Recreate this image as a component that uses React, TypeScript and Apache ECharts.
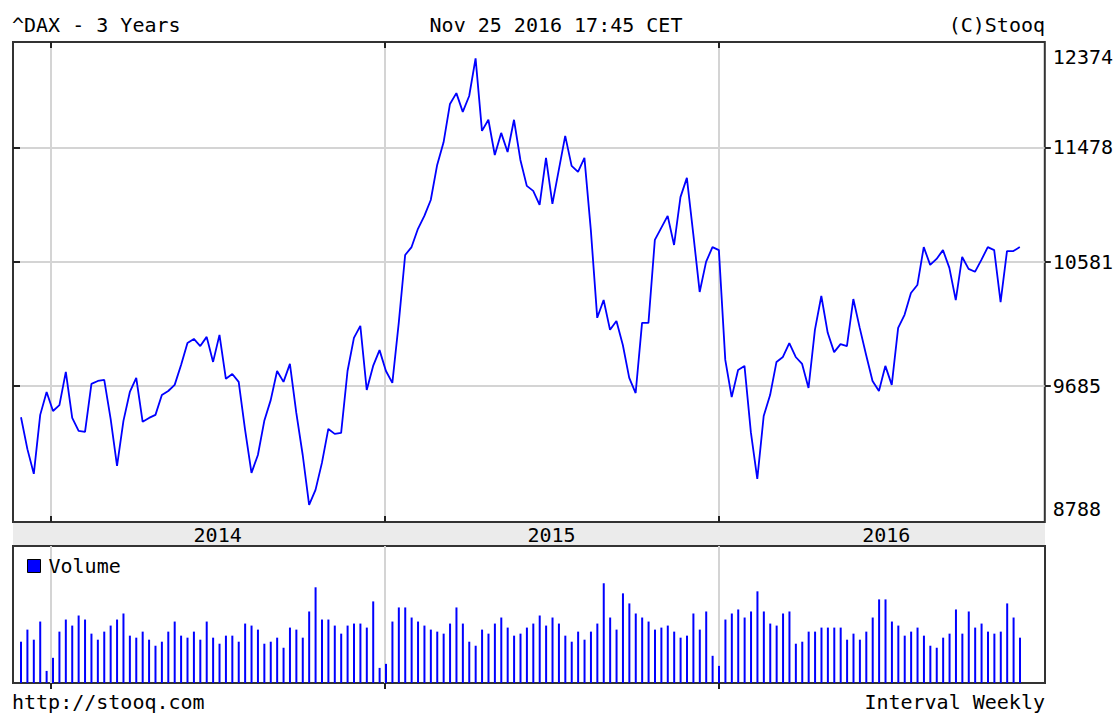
import React, { useEffect, useRef } from 'react';
import * as echarts from 'echarts';

// ---- data (weekly closes of ^DAX) ----
const FIRST_WEEK = Date.UTC(2013, 10, 29);
const WEEK_MS = 7 * 86400000;

const PRICE = [
  9399, 9172, 9000, 9416, 9583, 9444, 9487, 9731, 9394, 9301,
  9294, 9642, 9664, 9672, 9387, 9055, 9373, 9583, 9687, 9366,
  9394, 9416, 9560, 9590, 9635, 9783, 9949, 9980, 9926, 9996,
  9806, 10011, 9680, 9716, 9657, 9308, 9007, 9131, 9373, 9523,
  9738, 9657, 9791, 9430, 9131, 8788, 8890, 9076, 9315, 9280,
  9287, 9738, 9988, 10081, 9597, 9776, 9895, 9738, 9650, 10104,
  10643, 10708, 10859, 10967, 11101, 11404, 11603, 11949, 12049, 11877,
  12022, 12374, 11705, 11805, 11491, 11687, 11517, 11805, 11447, 11222,
  11179, 11059, 11465, 11068, 11361, 11660, 11395, 11343, 11465, 10850,
  10143, 10282, 10050, 10119, 9934, 9687, 9575, 10104, 10104, 10767,
  10867, 10967, 10725, 11126, 11291, 10817, 10346, 10587, 10708, 10683,
  9821, 9545, 9746, 9776, 9290, 8965, 9408, 9560, 9806, 9843,
  9949, 9843, 9791, 9612, 10050, 10314, 10027, 9880, 9941, 9926,
  10290, 10065, 9858, 9664, 9590, 9776, 9635, 10065, 10166, 10338,
  10401, 10708, 10563, 10611, 10683, 10539, 10282, 10627, 10531, 10507,
  10603, 10708, 10683, 10266, 10675, 10675, 10708,
];

// relative weekly volume
const VOLUME = [
  41, 53, 43, 61, 12, 25, 51, 63, 57, 67,
  63, 49, 43, 51, 57, 63, 69, 47, 45, 51,
  43, 37, 41, 51, 61, 47, 45, 51, 43, 61,
  45, 39, 47, 47, 41, 59, 57, 53, 39, 41,
  45, 35, 55, 53, 45, 71, 95, 63, 63, 57,
  49, 57, 59, 59, 55, 81, 15, 19, 61, 75,
  75, 65, 61, 57, 53, 51, 49, 59, 75, 59,
  41, 37, 53, 49, 59, 65, 55, 47, 49, 55,
  59, 67, 57, 65, 59, 47, 41, 51, 43, 51,
  59, 99, 65, 53, 89, 79, 69, 65, 61, 53,
  55, 57, 51, 45, 47, 69, 53, 71, 27, 17,
  63, 69, 73, 65, 71, 91, 71, 59, 57, 69,
  71, 39, 41, 51, 51, 55, 55, 55, 55, 43,
  49, 43, 51, 65, 83, 83, 61, 57, 47, 51,
  55, 47, 37, 35, 45, 49, 73, 49, 71, 55,
  59, 51, 49, 51, 79, 65, 45,
];

const Y_TICK_LABELS = [8788, 9685, 10581, 11478, 12374];
const YEAR_STARTS = [Date.UTC(2014, 0, 1), Date.UTC(2015, 0, 1), Date.UTC(2016, 0, 1)];
const YEAR_LABEL_AT = [Date.UTC(2014, 6, 2), Date.UTC(2015, 6, 2), Date.UTC(2016, 6, 2)];

const X_MIN = Date.UTC(2013, 10, 20, 6);
const X_MAX = Date.UTC(2016, 11, 22, 8);
const PRICE_AXIS_MIN = 8674;
const PRICE_AXIS_MAX = 12530;
const VOLUME_AXIS_MAX = 136;

const FONT = '"DejaVu Sans Mono", monospace';
const FS = 20;

export default function App() {
  const ref = useRef<HTMLDivElement>(null);

  useEffect(() => {
    document.body.style.margin = '0';
    if (!ref.current) return;
    const chart = echarts.init(ref.current, null, { renderer: 'svg' });

    const weeks = PRICE.map((_, i) => FIRST_WEEK + i * WEEK_MS);
    const lnTicks = Y_TICK_LABELS.map((v) => Math.log(v));
    const innerLn = lnTicks.slice(1, -1);
    const hiVal = Y_TICK_LABELS[Y_TICK_LABELS.length - 1];
    const loVal = Y_TICK_LABELS[0];

    const tickLine = { color: '#222', width: 2 };
    const gridLine = { color: '#d4d4d4', width: 2 };
    const txt = { fontFamily: FONT, fontSize: FS, color: '#000' };

    const option: any = {
      animation: false,
      backgroundColor: '#fff',
      grid: [
        { left: 13, top: 42, width: 1032, height: 480, show: true, borderColor: '#333', borderWidth: 2 },
        { left: 13, top: 546, width: 1032, height: 137, show: true, borderColor: '#333', borderWidth: 2 },
      ],
      xAxis: [
        {
          type: 'value', gridIndex: 0, position: 'bottom', min: X_MIN, max: X_MAX,
          axisLine: { show: false },
          axisTick: { show: true, inside: true, length: 6, customValues: YEAR_STARTS, lineStyle: tickLine },
          splitLine: { show: true, lineStyle: gridLine },
          axisLabel: {
            show: true, customValues: YEAR_LABEL_AT, margin: 3, ...txt,
            formatter: (v: number) => String(new Date(v).getUTCFullYear()),
          },
        },
        {
          type: 'value', gridIndex: 0, position: 'top', min: X_MIN, max: X_MAX,
          axisLine: { show: false },
          axisTick: { show: true, inside: true, length: 6, customValues: YEAR_STARTS, lineStyle: tickLine },
          splitLine: { show: false },
          axisLabel: { show: false },
        },
        {
          type: 'value', gridIndex: 1, position: 'top', min: X_MIN, max: X_MAX,
          axisLine: { show: false },
          axisTick: { show: true, inside: true, length: 6, customValues: YEAR_STARTS, lineStyle: tickLine },
          splitLine: { show: true, lineStyle: gridLine },
          axisLabel: { show: false },
        },
      ],
      yAxis: [
        { type: 'log', logBase: 10, gridIndex: 0, min: PRICE_AXIS_MIN, max: PRICE_AXIS_MAX, show: false },
        {
          type: 'value', gridIndex: 0, position: 'right', min: lnTicks[0], max: lnTicks[lnTicks.length - 1],
          axisLine: { show: false },
          axisTick: { show: true, length: 6, customValues: innerLn, lineStyle: tickLine },
          splitLine: { show: true, lineStyle: gridLine },
          axisLabel: {
            show: true, customValues: lnTicks, margin: 8, ...txt,
            formatter: (v: number) => {
              const n = Math.round(Math.exp(v));
              if (n === hiVal) return `{hi|${n}}`;
              if (n === loVal) return `{lo|${n}}`;
              return `{m|${n}}`;
            },
            rich: {
              hi: { ...txt, padding: [30, 0, 0, 0] },
              lo: { ...txt, padding: [0, 0, 26, 0] },
              m: { ...txt },
            },
          },
        },
        {
          type: 'value', gridIndex: 0, position: 'left', min: lnTicks[0], max: lnTicks[lnTicks.length - 1],
          axisLine: { show: false },
          axisTick: { show: true, inside: true, length: 7, customValues: innerLn, lineStyle: tickLine },
          splitLine: { show: false },
          axisLabel: { show: false },
        },
        { type: 'value', gridIndex: 1, min: 0, max: VOLUME_AXIS_MAX, show: false },
      ],
      legend: {
        data: [{ name: 'Volume', icon: 'rect' }],
        left: 22, top: 551, itemWidth: 13, itemHeight: 13, selectedMode: false,
        itemStyle: { borderColor: '#000', borderWidth: 1 },
        textStyle: { ...txt, padding: [0, 0, 0, 3] },
      },
      graphic: [
        { type: 'rect', z: -1, silent: true, shape: { x: 13, y: 522, width: 1032, height: 24 }, style: { fill: '#ebebeb' } },
        { type: 'text', x: 12, y: 25, style: { text: '^DAX - 3 Years', font: `${FS}px ${FONT}`, fill: '#000', align: 'left', verticalAlign: 'middle' } },
        { type: 'text', x: 556, y: 25, style: { text: 'Nov 25 2016 17:45 CET', font: `${FS}px ${FONT}`, fill: '#000', align: 'center', verticalAlign: 'middle' } },
        { type: 'text', x: 1045, y: 25, style: { text: '(C)Stooq', font: `${FS}px ${FONT}`, fill: '#000', align: 'right', verticalAlign: 'middle' } },
        { type: 'text', x: 12, y: 702, style: { text: 'http://stooq.com', font: `${FS}px ${FONT}`, fill: '#000', align: 'left', verticalAlign: 'middle' } },
        { type: 'text', x: 1045, y: 702, style: { text: 'Interval Weekly', font: `${FS}px ${FONT}`, fill: '#000', align: 'right', verticalAlign: 'middle' } },
      ],
      series: [
        {
          name: '^DAX', type: 'line', xAxisIndex: 0, yAxisIndex: 0,
          data: PRICE.map((v, i) => [weeks[i], v]),
          showSymbol: false, silent: true,
          lineStyle: { color: '#0000ff', width: 1.8 },
          itemStyle: { color: '#0000ff' },
        },
        {
          name: 'Volume', type: 'bar', xAxisIndex: 2, yAxisIndex: 3,
          data: VOLUME.map((v, i) => [weeks[i], v]),
          barWidth: 2, silent: true,
          itemStyle: { color: '#0000ff' },
        },
      ],
    };

    chart.setOption(option);
    return () => chart.dispose();
  }, []);

  return <div ref={ref} style={{ width: 1116, height: 713 }} />;
}
